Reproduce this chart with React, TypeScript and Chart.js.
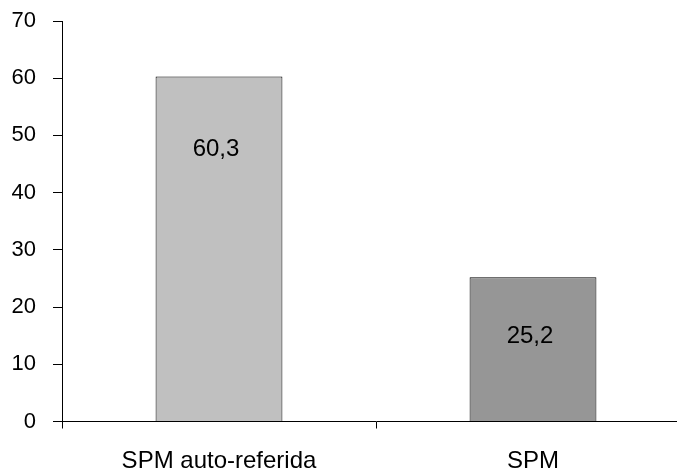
import React, { useEffect, useRef } from "react";
import { Chart, registerables } from "chart.js";

Chart.register(...registerables);

const categories = ["SPM auto-referida", "SPM"];
const values = [60.3, 25.2];
const valueLabels = ["60,3", "25,2"];
const valueLabelLevels = [47.6, 14.9];
const barColors = ["#C0C0C0", "#969696"];
const yTicks = [0, 10, 20, 30, 40, 50, 60, 70];

const FONT = "'Liberation Sans', Arial, sans-serif";

const valueLabelPlugin = {
  id: "valueLabels",
  afterDatasetsDraw(chart: any) {
    const ctx = chart.ctx;
    const meta = chart.getDatasetMeta(0);
    const yScale = chart.scales.y;
    ctx.save();
    ctx.font = `24px ${FONT}`;
    ctx.fillStyle = "#000";
    ctx.textAlign = "center";
    ctx.textBaseline = "middle";
    meta.data.forEach((bar: any, i: number) => {
      ctx.fillText(valueLabels[i], bar.x - 3, yScale.getPixelForValue(valueLabelLevels[i]));
    });
    ctx.restore();
  },
};

export default function App() {
  const ref = useRef<HTMLCanvasElement>(null);
  useEffect(() => {
    document.body.style.margin = "0";
    document.body.style.overflow = "hidden";
    const chart = new Chart(ref.current!, {
      type: "bar",
      data: {
        labels: categories,
        datasets: [
          {
            data: values,
            backgroundColor: barColors,
            borderColor: "#000",
            borderWidth: 1,
            categoryPercentage: 1,
            barPercentage: 0.404,
          },
        ],
      },
      options: {
        responsive: false,
        animation: false,
        events: [],
        layout: { padding: { top: 21, right: 10, left: 0, bottom: 0 } },
        plugins: { legend: { display: false }, tooltip: { enabled: false } },
        scales: {
          x: {
            grid: {
              offset: true,
              drawOnChartArea: false,
              drawTicks: true,
              tickLength: 7,
              color: "#000",
            },
            border: { display: true, color: "#000", width: 1 },
            ticks: {
              font: { family: FONT, size: 24 },
              color: "#000",
              padding: 18,
              maxRotation: 0,
            },
            afterFit: (scale: any) => {
              scale.height = 51.5;
              scale.paddingLeft = 0;
              scale.paddingRight = 0;
            },
          },
          y: {
            min: 0,
            max: 70,
            afterBuildTicks: (scale: any) => {
              scale.ticks = yTicks.map((v) => ({ value: v }));
            },
            grid: {
              drawOnChartArea: false,
              drawTicks: true,
              tickLength: 9,
              color: "#000",
            },
            border: { display: true, color: "#000", width: 1 },
            ticks: {
              font: { family: FONT, size: 22 },
              color: "#000",
              padding: 17,
            },
            afterFit: (scale: any) => {
              scale.width = 62;
              scale.paddingTop = 0;
              scale.paddingBottom = 0;
            },
          },
        },
      },
      plugins: [valueLabelPlugin],
    });
    return () => chart.destroy();
  }, []);
  return (
    <div
      style={{
        position: "fixed",
        left: 0,
        top: 0,
        width: 677,
        height: 473,
        overflow: "hidden",
        background: "#fff",
      }}
    >
      <canvas ref={ref} width={700} height={473} style={{ display: "block" }} />
    </div>
  );
}
